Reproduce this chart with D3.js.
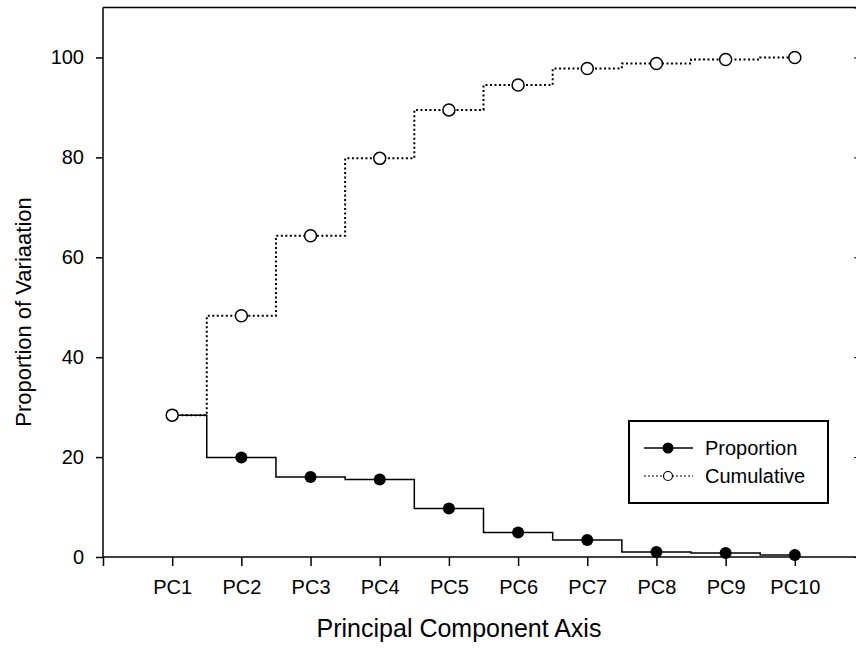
<!DOCTYPE html>
<html>
<head>
<meta charset="utf-8">
<script src="https://d3js.org/d3.v7.min.js"></script>
<style>
  html, body { margin: 0; padding: 0; background: #fff; }
  text { font-family: Arial, "Liberation Sans", sans-serif; fill: #000; }
</style>
</head>
<body>
<svg id="chart" width="856" height="648"></svg>
<script>
const categories = ["PC1","PC2","PC3","PC4","PC5","PC6","PC7","PC8","PC9","PC10"];
const proportion = [28.4, 19.9, 16.0, 15.5, 9.7, 4.9, 3.4, 1.0, 0.8, 0.4];
const cumulative = [28.4, 48.3, 64.3, 79.8, 89.5, 94.5, 97.8, 98.8, 99.6, 100.0];
const yTicks = [0, 20, 40, 60, 80, 100];
const legendLabels = ["Proportion", "Cumulative"];

const svg = d3.select("#chart");
const mLeft = 103, mRight = 864, mTop = 7.5, mBottom = 557;

const x = d3.scaleLinear().domain([0, 11]).range([mLeft, mRight]);
const y = d3.scaleLinear().domain([0, 110]).range([mBottom, mTop]);

// top border
svg.append("line").attr("x1", mLeft).attr("x2", 856).attr("y1", mTop).attr("y2", mTop)
  .attr("stroke", "#000").attr("stroke-width", 1.5);

// right axis (mostly off-canvas, inward ticks)
const rAxis = svg.append("g").attr("transform", `translate(861,0)`)
  .call(d3.axisRight(y).tickValues(yTicks).tickSize(-7).tickFormat(""));
rAxis.selectAll("line").attr("stroke-width", 1);

// left axis
const yAxis = svg.append("g").attr("transform", `translate(${mLeft},0)`)
  .call(d3.axisLeft(y).tickValues(yTicks).tickSize(7).tickPadding(12).tickSizeOuter(0));
yAxis.select(".domain").attr("stroke-width", 1.5).attr("d", `M0,${mBottom}V${mTop}`);
yAxis.selectAll("line").attr("stroke-width", 1.5);
yAxis.selectAll("text").attr("font-size", 20).style("font-family", "Arial, 'Liberation Sans', sans-serif");

// bottom axis
const xAxis = svg.append("g").attr("transform", `translate(0,${mBottom})`)
  .call(d3.axisBottom(x).tickValues(d3.range(0, 11)).tickSize(9).tickPadding(14)
    .tickFormat(d => d === 0 ? "" : categories[d - 1]).tickSizeOuter(0));
xAxis.select(".domain").attr("stroke-width", 1.5).attr("d", `M${mLeft},0H856`);
xAxis.selectAll("line").attr("stroke-width", 1.5);
xAxis.selectAll("text").attr("font-size", 20).style("font-family", "Arial, 'Liberation Sans', sans-serif");

const line = d3.line().x((d, i) => x(i + 1)).y(d => y(d)).curve(d3.curveStep);

// proportion line
svg.append("path").datum(proportion).attr("d", line)
  .attr("fill", "none").attr("stroke", "#000").attr("stroke-width", 1.5);
// cumulative line
svg.append("path").datum(cumulative).attr("d", line)
  .attr("fill", "none").attr("stroke", "#000").attr("stroke-width", 2)
  .attr("stroke-dasharray", "2,2.5");

svg.append("g").selectAll("circle").data(proportion).join("circle")
  .attr("cx", (d, i) => x(i + 1)).attr("cy", d => y(d)).attr("r", 6)
  .attr("fill", "#000");
svg.append("g").selectAll("circle").data(cumulative).join("circle")
  .attr("cx", (d, i) => x(i + 1)).attr("cy", d => y(d)).attr("r", 6)
  .attr("fill", "#fff").attr("stroke", "#000").attr("stroke-width", 1.5);

// axis titles
svg.append("text").attr("x", 459).attr("y", 637).attr("text-anchor", "middle")
  .attr("font-size", 25).text("Principal Component Axis");
svg.append("text").attr("transform", "translate(31,312) rotate(-90)").attr("text-anchor", "middle")
  .attr("font-size", 22).text("Proportion of Variaation");

// legend
const lg = svg.append("g");
lg.append("rect").attr("x", 629).attr("y", 421).attr("width", 199).attr("height", 82)
  .attr("fill", "#fff").attr("stroke", "#000").attr("stroke-width", 2);
const rows = [448, 476];
legendLabels.forEach((lab, i) => {
  const yy = rows[i];
  lg.append("line").attr("x1", 644).attr("x2", 693).attr("y1", yy).attr("y2", yy)
    .attr("stroke", "#000").attr("stroke-width", i === 0 ? 1.5 : 1.2)
    .attr("stroke-dasharray", i === 0 ? null : "2,2");
  lg.append("circle").attr("cx", 668).attr("cy", yy).attr("r", i === 0 ? 5.5 : 4.5)
    .attr("fill", i === 0 ? "#000" : "#fff").attr("stroke", "#000").attr("stroke-width", i === 0 ? 0 : 1.2);
  lg.append("text").attr("x", 705).attr("y", yy + 7).attr("font-size", 20).text(lab);
});
</script>
</body>
</html>
